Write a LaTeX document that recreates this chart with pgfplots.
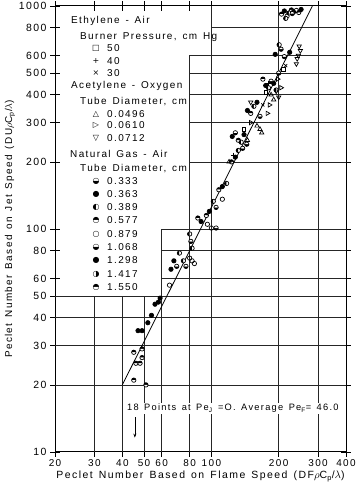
\documentclass[border=0pt]{standalone}
\usepackage{fontspec}
\setmainfont[LetterSpace=14,WordSpace=1.4]{Liberation Sans}
\newfontfamily\sym{DejaVu Sans}
\usepackage{pgfplots}
\pgfplotsset{compat=1.18}
\usetikzlibrary{plotmarks,arrows.meta}
\tikzset{gl/.style={black!85,line width=0.7pt}}
\begin{document}
\begin{tikzpicture}
\useasboundingbox (-55bp,-36bp) rectangle (301bp,452bp);
\begin{axis}[
  xmode=log, ymode=log,
  scale only axis, width=291bp, height=446bp,
  xmin=20, xmax=400, ymin=10, ymax=1000,
  xtick={20,30,40,50,60,80,100,200,300,400},
  xticklabels={20,30,40,50,60,80,100,200,300,400},
  ytick={10,20,30,40,50,60,80,100,200,300,400,500,600,800,1000},
  yticklabels={10,20,30,40,50,60,80,100,200,300,400,500,600,800,1000},
  xminorticks=false, yminorticks=false,
  tick align=center, major tick length=10bp,
  tick style={black,line width=0.7pt},
  axis line style={line width=1pt},
  ticklabel style={font=\fontsize{10}{12}\selectfont},
  yticklabel style={font=\fontsize{10.5}{12}\selectfont},
  xticklabel style={yshift=1bp},
  xlabel={Peclet Number Based on Flame Speed (DF$\rho$C\textsubscript{p}/$\lambda$)},
  ylabel={Peclet Number Based on Jet Speed (DU$\rho$C\textsubscript{p}/$\lambda$)},
  xlabel style={font=\fontsize{10.5}{12}\selectfont, yshift=2bp},
  ylabel style={font=\fontsize{10}{12}\selectfont, yshift=-3bp},
  every axis plot/.append style={only marks, black, mark size=2.2pt, line width=0.7pt},
]
% partial grid
\draw[gl] (axis cs:30,10) -- (axis cs:30,50);
\draw[gl] (axis cs:40,10) -- (axis cs:40,50);
\draw[gl] (axis cs:50,10) -- (axis cs:50,50);
\draw[gl] (axis cs:60,10) -- (axis cs:60,100);
\draw[gl] (axis cs:80,10) -- (axis cs:80,600);
\draw[gl] (axis cs:100,10) -- (axis cs:100,1000);
\draw[gl] (axis cs:200,10) -- (axis cs:200,1000);
\draw[gl] (axis cs:300,10) -- (axis cs:300,1000);
\pgfplotsinvokeforeach{20,30,40,50}{\draw[gl] (axis cs:20,#1) -- (axis cs:400,#1);}
\pgfplotsinvokeforeach{60,80,100}{\draw[gl] (axis cs:60,#1) -- (axis cs:400,#1);}
\pgfplotsinvokeforeach{200,300,400,500,600}{\draw[gl] (axis cs:80,#1) -- (axis cs:400,#1);}
\draw[gl] (axis cs:100,800) -- (axis cs:400,800);

% correlation line
\addplot[no marks, sharp plot, line width=0.8pt] coordinates {(40,20) (283,1000)};

% Natural gas - air
\addplot[mark=halfcircle*] coordinates {(45,21) (51,20) (46,25) (48,25) (45,28) (49,29) (49,26.5) (87,112) (95,115) (108,150) (123,200) (132,250) (150,330) (170,470) (206,920) (228,960) (246,935)};
\addplot[mark=*] coordinates {(47,35) (49,35) (52,38) (54,41) (56,46) (58,47) (59,49) (66,66) (68,72) (90,108) (98,120) (112,155) (128,210) (124,260) (140,265) (145,340) (160,370) (175,440) (190,450) (193,607) (224,620) (212,950) (233,940) (252,965)};
\addplot[mark=o] coordinates {(65,56) (80,74) (84,70) (112,136) (96,105) (100,101) (82,72) (218,900) (240,955)};
\addplot[mark=halfcircle*, mark options={rotate=90}] coordinates {(72,78) (75,72) (80,95) (82,82) (102,133) (117,160) (132,225) (136,245) (155,355) (180,430) (195,420) (201,670) (215,880) (222,930)};
\addplot[mark=halfcircle*, mark options={rotate=180}] coordinates {(70,68) (77,68) (81,88) (105,125) (105,101) (138,230) (128,270) (144,240) (165,320) (185,460) (200,500) (212,593) (205,640) (230,925)};
% Acetylene - oxygen
\addplot[mark=triangle, mark size=2.5pt] coordinates {(160,290) (165,280) (168,270) (185,400) (190,380) (145,250) (120,200)};
\addplot[mark=triangle, mark size=2.5pt, mark options={rotate=-90}] coordinates {(178,330) (182,360) (198,470) (205,430) (150,300)};
\addplot[mark=triangle, mark size=2.5pt, mark options={rotate=180}] coordinates {(240,550) (245,600) (250,630) (247,660) (242,580) (150,370) (200,390) (195,415)};
% Ethylene - air
\addplot[mark=square, mark size=1.8pt] coordinates {(175,410) (210,520) (140,280)};
\addplot[mark=+] coordinates {(180,450) (125,215)};
\addplot[mark=x] coordinates {(170,360) (215,540)};

% annotation
\node[anchor=west, fill=white, inner sep=1pt, font=\fontsize{9.3}{11}\selectfont] at (axis cs:41.5,15.7) {18 Points at Pe\textsubscript{J} =O. Average Pe\textsubscript{F}= 46.0};
\draw[-{Stealth[length=4pt]}, line width=0.6pt] (axis cs:45.5,14.3) -- (axis cs:45.5,11.6);
\end{axis}
\begin{scope}[x=1bp, y=-1bp, shift={(-55bp,452bp)}, every node/.style={anchor=west, inner sep=0pt, font=\fontsize{10}{12}\selectfont}]
\node at (71,21) {Ethylene - Air};
\node at (80,37) {Burner Pressure, cm Hg};
\node at (107,48) {50}; \node at (107,61) {40}; \node at (107,73) {30};
\node at (71,86) {Acetylene - Oxygen};
\node at (80,102) {Tube Diameter, cm};
\node at (107,114) {0.0496}; \node at (107,125) {0.0610}; \node at (107,138) {0.0712};
\node at (70,154) {Natural Gas - Air};
\node at (80,169) {Tube Diameter, cm};
\node at (107,181) {0.333}; \node at (107,194) {0.363}; \node at (107,207) {0.389};
\node at (107,220) {0.577}; \node at (107,234) {0.879}; \node at (107,247) {1.068};
\node at (107,260) {1.298}; \node at (107,274) {1.417}; \node at (107,287) {1.550};
\begin{scope}[every node/.style={anchor=center, inner sep=0pt, font=\sym\fontsize{8}{9}\selectfont}]
\node at (96,48) {□}; \node at (96,61) {+}; \node at (96,73) {×};
\node at (96,114) {△}; \node at (96,125) {▷}; \node at (96,138) {▽};
\node at (96,181) {◒}; \node at (96,194) {●}; \node at (96,207) {◐};
\node at (96,220) {◓}; \node at (96,234) {○}; \node at (96,247) {◒};
\node at (96,260) {●}; \node at (96,274) {◑}; \node at (96,287) {◓};
\end{scope}
\end{scope}
\end{tikzpicture}
\end{document}
